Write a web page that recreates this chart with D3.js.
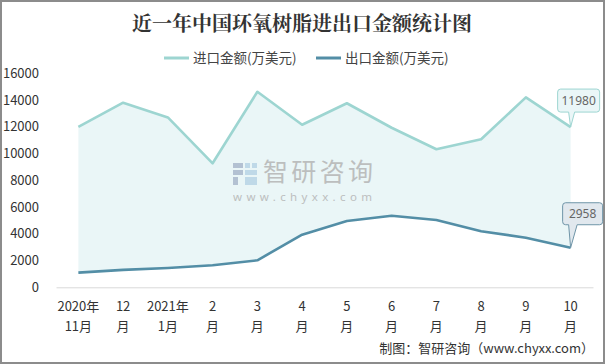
<!DOCTYPE html>
<html><head><meta charset="utf-8">
<script src="https://cdn.jsdelivr.net/npm/d3@7"></script>
<style>
html,body{margin:0;padding:0;background:#fff;}
svg{display:block;font-family:"Noto Sans CJK SC","Noto Sans",sans-serif;}
</style></head>
<body>
<svg id="c" width="605" height="364"></svg>
<script>
const categories = ["2020年\n11月","12\n月","2021年\n1月","2\n月","3\n月","4\n月","5\n月","6\n月","7\n月","8\n月","9\n月","10\n月"];
const importValues = [12000,13800,12700,9270,14620,12150,13760,11930,10320,11070,14200,11980];
const exportValues = [1100,1300,1440,1650,2020,3930,4960,5350,5030,4190,3710,2958];
const yTicks = [0,2000,4000,6000,8000,10000,12000,14000,16000];
const seriesNames = ["进口金额(万美元)","出口金额(万美元)"];
const title = "近一年中国环氧树脂进出口金额统计图";
const footer = "制图：智研咨询（www.chyxx.com）";

const impColor = "#9dd5d1", expColor = "#538ea6", fillColor = "#eaf6f7";
const svg = d3.select("#c");
const W = 605, H = 364;

// border
svg.append("rect").attr("x",1).attr("y",1).attr("width",W-2).attr("height",H-2)
  .attr("fill","#fff").attr("stroke","#8c8c8c").attr("stroke-width",2);

const x = d3.scaleBand().domain(d3.range(categories.length)).range([56,593]);
const cx = i => x(i) + x.bandwidth()/2;
const y = d3.scaleLinear().domain([0,16000]).range([287.3,73.3]);

// title
svg.append("text").attr("x",302).attr("y",31).attr("text-anchor","middle")
  .attr("font-size",20).attr("font-weight","bold").attr("fill","#333")
  .attr("font-family","'Noto Serif CJK SC','Noto Sans CJK SC',serif").text(title);

// legend
const lg = svg.append("g");
const legendItems = [{x:164,c:impColor,t:seriesNames[0]},{x:316,c:expColor,t:seriesNames[1]}];
legendItems.forEach(d=>{
  lg.append("line").attr("x1",d.x).attr("x2",d.x+25).attr("y1",58).attr("y2",58)
    .attr("stroke",d.c).attr("stroke-width",3);
  lg.append("text").attr("x",d.x+29).attr("y",63).attr("font-size",13.5).attr("fill","#444").text(d.t);
});

// area between lines
const area = d3.area().x((d,i)=>cx(i)).y0((d,i)=>y(exportValues[i])).y1(d=>y(d));
svg.append("path").datum(importValues).attr("d",area).attr("fill",fillColor);

// watermark
const wm = svg.append("g").attr("opacity",0.85);
const lgx = 233, lgy = 163;
[[0,0,10,5],[0,7,10,5],[0,14,5,8],[12,0,5,5],[12,7,12,5],[19,0,5,5],[12,14,12,8]].forEach((r,k)=>{
  wm.append("rect").attr("x",lgx+r[0]).attr("y",lgy+r[1]).attr("width",r[2]).attr("height",r[3])
    .attr("fill", k<3 ? "#aab8cc" : "#b8d4e6");
});
wm.append("text").attr("x",263).attr("y",181).attr("font-size",25).attr("fill","#b5b5b5")
  .attr("textLength",110).text("智研咨询");
wm.append("text").attr("x",233).attr("y",201).attr("font-size",11.5).attr("fill","#b5b5b5")
  .attr("font-family","'Noto Sans',sans-serif")
  .attr("textLength",139).attr("lengthAdjust","spacing").text("www.chyxx.com");

// lines
const line = d3.line().x((d,i)=>cx(i)).y(d=>y(d));
svg.append("path").datum(importValues).attr("d",line).attr("fill","none")
  .attr("stroke",impColor).attr("stroke-width",2.6).attr("stroke-linejoin","round");
svg.append("path").datum(exportValues).attr("d",line).attr("fill","none")
  .attr("stroke",expColor).attr("stroke-width",2.6).attr("stroke-linejoin","round");

// x axis
const xAxis = d3.axisBottom(x).tickSize(0).tickFormat("");
const xg = svg.append("g").attr("transform","translate(0,287.3)").call(xAxis);
xg.select(".domain").attr("stroke","#d9d9d9").attr("stroke-width",1);
categories.forEach((c,i)=>{
  const parts = c.split("\n");
  const t = svg.append("text").attr("text-anchor","middle").attr("font-size",13).attr("fill","#333");
  parts.forEach((p,k)=>t.append("tspan").attr("x",cx(i)).attr("y",311+k*19.5).text(p));
});

// y axis
const yAxis = d3.axisLeft(y).tickValues(yTicks).tickSize(0).tickPadding(0).tickFormat(d3.format("d"));
const yg = svg.append("g").attr("transform","translate(39,0)").call(yAxis);
yg.select(".domain").remove();
yg.selectAll("text").attr("font-size",13).attr("fill","#333")
  .attr("font-family","'Noto Sans CJK SC','Noto Sans',sans-serif");

// callouts
function callout(i, v, opts){
  const px = cx(i), py = y(v);
  const L = px+opts.dx, R = L+opts.w, B = py-opts.gap, T = B-opts.h, r=3;
  const b1 = px+opts.b1, b2 = px+opts.b2;
  const p = `M${L+r},${T} H${R-r} Q${R},${T} ${R},${T+r} V${B-r} Q${R},${B} ${R-r},${B} H${b2} L${px},${py} L${b1},${B} H${L+r} Q${L},${B} ${L},${B-r} V${T+r} Q${L},${T} ${L+r},${T} Z`;
  svg.append("path").attr("d",p).attr("fill",opts.fill).attr("stroke",opts.stroke).attr("stroke-width",1);
  svg.append("text").attr("x",(L+R)/2).attr("y",(T+B)/2+4.5).attr("text-anchor","middle")
    .attr("font-size",12).attr("fill","#666").attr("font-family","'Noto Sans','Noto Sans CJK SC',sans-serif").text(v);
}
const last = categories.length-1;
callout(last, importValues[last], {dx:-13,w:42,h:23,gap:15,b1:-2,b2:4,fill:"#eaf6f7",stroke:impColor});
callout(last, exportValues[last], {dx:-8,w:40,h:22,gap:23,b1:-2,b2:6.5,fill:"#e1e8ee",stroke:"#6f95a8"});

// footer
svg.append("text").attr("x",594).attr("y",353).attr("text-anchor","end").attr("font-size",13)
  .attr("fill","#333").text(footer);
</script>
</body></html>
